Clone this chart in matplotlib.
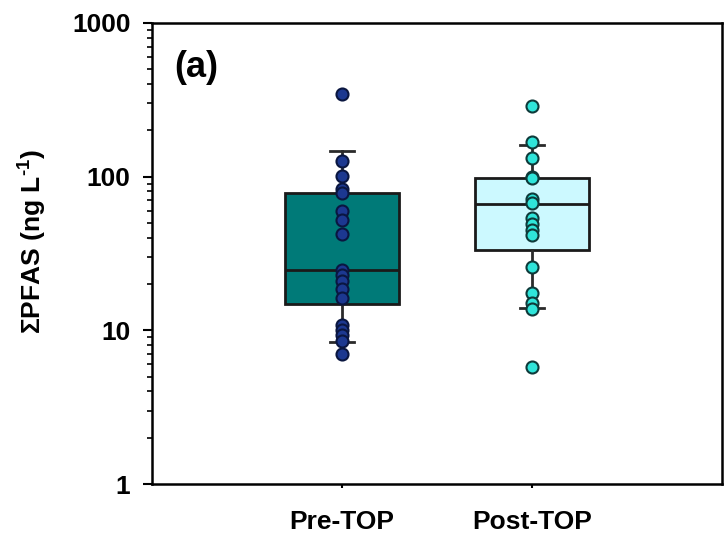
import matplotlib.pyplot as plt

plt.rcParams['font.family'] = ['Liberation Sans', 'DejaVu Sans']
plt.rcParams['font.weight'] = 'bold'
plt.rcParams['mathtext.fontset'] = 'custom'
plt.rcParams['mathtext.rm'] = 'Liberation Sans:bold'
plt.rcParams['mathtext.bf'] = 'Liberation Sans:bold'
plt.rcParams['mathtext.default'] = 'bf'

# data (ng/L)
groups = ["Pre-TOP", "Post-TOP"]
pre_points = [344, 126, 101, 83, 78, 60, 52, 42, 24.5, 23, 21, 18.7, 16.3,
              10.9, 10.1, 9.3, 8.5, 7.0]
post_points = [286, 167, 133, 100, 98, 71, 67, 54, 49, 45, 41.5, 25.8,
               17.5, 15.0, 13.8, 5.8]
# box stats: 10th pct, 25th, median, 75th, 90th
pre_box = [8.4, 14.9, 24.5, 78.3, 146]
post_box = [14.0, 33.4, 66.5, 97.5, 161]

box_colors = ["#007A78", "#CCF9FF"]
point_colors = ["#1C3890", "#2FE5DA"]
point_edges = ["#0A1640", "#0E3A3A"]

fig = plt.figure(figsize=(7.27, 5.35), dpi=100)
ax = fig.add_axes([0.209, 0.0953, 0.784, 0.862])

stats = []
for name, b in zip(groups, [pre_box, post_box]):
    stats.append({"label": name, "whislo": b[0], "q1": b[1], "med": b[2],
                  "q3": b[3], "whishi": b[4], "fliers": []})

bp = ax.bxp(stats, positions=[1, 2], widths=0.6, capwidths=0.13,
            patch_artist=True, showfliers=False,
            boxprops=dict(edgecolor="#1A1A1A", linewidth=2),
            medianprops=dict(color="#1A1A1A", linewidth=2),
            whiskerprops=dict(color="#2A2A2A", linewidth=2),
            capprops=dict(color="#2A2A2A", linewidth=2))
for patch, c in zip(bp["boxes"], box_colors):
    patch.set_facecolor(c)

for i, pts in enumerate([pre_points, post_points]):
    ax.scatter([i + 1] * len(pts), pts, s=75, color=point_colors[i],
               edgecolors=point_edges[i], linewidths=1.5, zorder=5)

ax.set_yscale("log")
ax.set_ylim(1, 1000)
ax.set_xlim(0, 3)
ax.set_yticks([1, 10, 100, 1000])
ax.set_yticklabels(["1", "10", "100", "1000"])
ax.set_xticks([1, 2])
ax.set_xticklabels(groups)

for s in ax.spines.values():
    s.set_linewidth(1.8)
ax.tick_params(axis="y", which="major", direction="out", length=6.5,
               width=1.5, labelsize=19, pad=9)
ax.tick_params(axis="y", which="minor", direction="out", length=3.5,
               width=1.2)
ax.tick_params(axis="x", direction="out", length=3, width=1.5,
               labelsize=19, pad=16)

ax.set_ylabel(r"ΣPFAS (ng L$^{\text{-1}}$)", fontsize=19, fontweight="bold")
ax.yaxis.set_label_coords(-0.181, 0.525)

ax.text(0.04, 0.883, "(a)", transform=ax.transAxes, fontsize=26,
        fontweight="bold", va="baseline", ha="left")

fig.savefig("out.png", dpi=100)
